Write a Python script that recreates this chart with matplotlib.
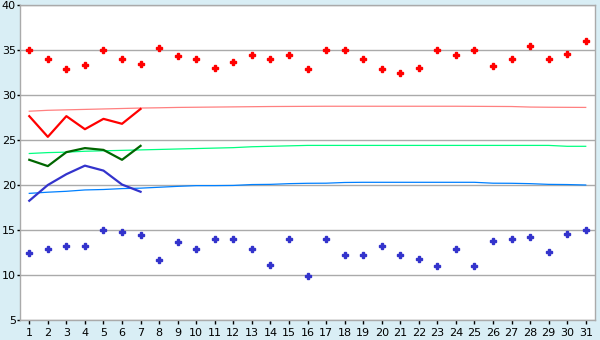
import numpy as np
import matplotlib
matplotlib.use("Agg")
import matplotlib.pyplot as plt

days = list(range(1, 32))

# daily maxima / minima (points)
high_pts = [35.0, 34.0, 32.85, 33.3, 35.0, 34.0, 33.4, 35.2, 34.3, 34.0,
            32.95, 33.65, 34.4, 34.0, 34.5, 32.85, 34.95, 34.95, 34.0, 32.85,
            32.4, 32.95, 34.95, 34.4, 35.05, 33.2, 34.0, 35.5, 34.0, 34.6, 35.95]
low_pts = [12.5, 12.85, 13.2, 13.2, 14.95, 14.75, 14.5, 11.65, 13.65, 12.85,
           13.95, 13.95, 12.85, 11.1, 13.95, 9.85, 13.95, 12.2, 12.2, 13.2,
           12.2, 11.75, 10.95, 12.85, 10.95, 13.75, 13.95, 14.2, 12.6, 14.6, 14.95]

# first week lines
week_days = [1, 2, 3, 4, 5, 6, 7]
week_high = [27.65, 25.35, 27.65, 26.2, 27.35, 26.8, 28.45]
week_mean = [22.8, 22.1, 23.65, 24.1, 23.9, 22.8, 24.35]
week_low = [18.25, 20.0, 21.2, 22.15, 21.6, 20.05, 19.25]

# long-term normals
norm_high = [28.2, 28.3, 28.35, 28.4, 28.45, 28.5, 28.55, 28.58, 28.62, 28.64,
             28.66, 28.68, 28.7, 28.72, 28.73, 28.74, 28.75, 28.75, 28.75, 28.75,
             28.75, 28.75, 28.75, 28.75, 28.74, 28.73, 28.72, 28.66, 28.64, 28.63, 28.62]
norm_mean = [23.5, 23.6, 23.65, 23.75, 23.8, 23.85, 23.9, 23.95, 24.0, 24.05,
             24.1, 24.15, 24.25, 24.3, 24.35, 24.4, 24.4, 24.4, 24.4, 24.4,
             24.4, 24.4, 24.4, 24.4, 24.4, 24.4, 24.4, 24.4, 24.4, 24.3, 24.3]
norm_low = [19.07, 19.2, 19.3, 19.45, 19.5, 19.6, 19.65, 19.75, 19.85, 19.93,
            19.93, 19.95, 20.05, 20.07, 20.15, 20.19, 20.2, 20.28, 20.3, 20.3,
            20.3, 20.3, 20.3, 20.3, 20.3, 20.2, 20.19, 20.15, 20.07, 20.05, 20.0]

bg = "#D9EEF5"
grid_c = "#AAAAAA"

fig = plt.figure(figsize=(6, 3.4), dpi=100, facecolor=bg)
ax = fig.add_axes([20 / 600, 1 - 320 / 340, 575 / 600, 315 / 340])
ax.set_facecolor("white")

ax.plot(days, norm_high, color="#FF8080", lw=0.9)
ax.plot(days, norm_mean, color="#00FF80", lw=0.9)
ax.plot(days, norm_low, color="#0080FF", lw=0.9)

ax.plot(week_days, week_high, color="#FF0000", lw=1.6)
ax.plot(week_days, week_mean, color="#006600", lw=1.6)
ax.plot(week_days, week_low, color="#3333CC", lw=1.6)

ax.plot(days, high_pts, ls="none", marker="P", ms=4.5, color="#FF0000", mec="#FF0000")
ax.plot(days, low_pts, ls="none", marker="P", ms=4.5, color="#3333CC", mec="#3333CC")

ax.set_xlim(0.5, 31.5)
ax.set_ylim(5, 40)
ax.set_xticks(days)
ax.set_yticks(range(5, 41, 5))
ax.yaxis.grid(True, color=grid_c, lw=1)
ax.set_axisbelow(True)
for s in ax.spines.values():
    s.set_color(grid_c)
    s.set_linewidth(1)
ax.tick_params(axis="both", colors="black", labelsize=8, width=1)
ax.tick_params(axis="y", length=2.2, pad=0.8)
ax.tick_params(axis="x", length=3, pad=3)

fig.savefig("out.png", dpi=100, facecolor=bg)
